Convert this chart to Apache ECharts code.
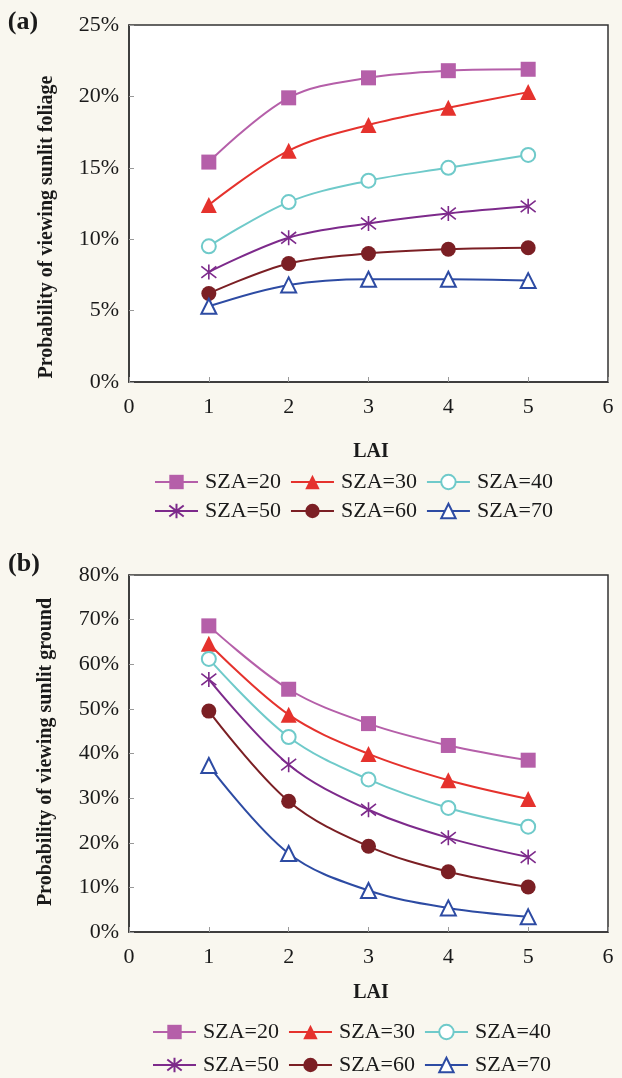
<!DOCTYPE html>
<html>
<head>
<meta charset="utf-8">
<script src="https://cdn.jsdelivr.net/npm/echarts@6/dist/echarts.min.js"></script>
<style>
  html, body { margin: 0; padding: 0; background: #f9f7ef; }
  #chart { width: 622px; height: 1078px; }
</style>
</head>
<body>
<div id="chart"></div>
<script>
// Leaf area index values on the x axis
const lai = [1, 2, 3, 4, 5];
const szaNames = ['SZA=20', 'SZA=30', 'SZA=40', 'SZA=50', 'SZA=60', 'SZA=70'];

// (a) probability of viewing sunlit foliage, in percent
const foliage20 = [15.4, 19.9, 21.3, 21.8, 21.9];
const foliage30 = [12.4, 16.2, 18.0, 19.2, 20.3];
const foliage40 = [9.5, 12.6, 14.1, 15.0, 15.9];
const foliage50 = [7.7, 10.1, 11.1, 11.8, 12.3];
const foliage60 = [6.2, 8.3, 9.0, 9.3, 9.4];
const foliage70 = [5.3, 6.8, 7.2, 7.2, 7.1];

// (b) probability of viewing sunlit ground, in percent
const ground20 = [68.6, 54.4, 46.7, 41.8, 38.5];
const ground30 = [64.6, 48.7, 39.9, 34.0, 29.8];
const ground40 = [61.2, 43.7, 34.2, 27.8, 23.6];
const ground50 = [56.6, 37.5, 27.4, 21.1, 16.8];
const ground60 = [49.5, 29.3, 19.2, 13.5, 10.1];
const ground70 = [37.3, 17.6, 9.3, 5.4, 3.4];

// Axis ranges and tick steps
const xTicks = { min: 0, max: 6, step: 1 };
const yTicksA = { min: 0, max: 25, step: 5 };
const yTicksB = { min: 0, max: 80, step: 10 };

const foliageSets = [foliage20, foliage30, foliage40, foliage50, foliage60, foliage70];
const groundSets = [ground20, ground30, ground40, ground50, ground60, ground70];

const FONT = '"Liberation Serif", "Times New Roman", serif';
const colors = ['#b55fa9', '#e5322d', '#6fcaca', '#7d2a8b', '#7b1f24', '#2d4ba3'];
const starPath = 'path://M0,0L10,10M10,0L0,10M5,-1.5L5,11.5';
const markers = [
  { symbol: 'rect', size: 15 },
  { symbol: 'triangle', size: 16 },
  { symbol: 'emptyCircle', size: 14 },
  { symbol: starPath, size: 15 },
  { symbol: 'circle', size: 15 },
  { symbol: 'emptyTriangle', size: 15 }
];

function makeSeries(sets, gridIdx) {
  return sets.map((vals, i) => {
    const m = markers[i];
    const s = {
      name: szaNames[i],
      type: 'line',
      xAxisIndex: gridIdx,
      yAxisIndex: gridIdx,
      data: lai.map((x, k) => [x, vals[k]]),
      smooth: 0.35,
      symbol: m.symbol,
      symbolSize: m.size,
      showAllSymbol: true,
      lineStyle: { color: colors[i], width: 2 },
      itemStyle: { color: colors[i], borderColor: colors[i], borderWidth: 0 },
      emphasis: { disabled: true },
      animation: false
    };
    if (m.symbol.indexOf('empty') === 0) {
      s.itemStyle.borderWidth = 1.5;
    }
    if (m.symbol === starPath) {
      s.itemStyle.borderWidth = 1.6;
    }
    return s;
  });
}

function xAxisFor(gridIdx) {
  return {
    gridIndex: gridIdx,
    type: 'value',
    min: xTicks.min, max: xTicks.max, interval: xTicks.step,
    axisLine: { show: true, onZero: false, lineStyle: { color: '#333', width: 1.5 } },
    axisTick: { show: true, inside: true, length: 5, lineStyle: { color: '#999', width: 1 } },
    axisLabel: { fontFamily: FONT, fontSize: 22, color: '#1a1a1a', margin: 14 },
    splitLine: { show: false }
  };
}

function yAxisFor(gridIdx, t) {
  return {
    gridIndex: gridIdx,
    type: 'value',
    min: t.min, max: t.max, interval: t.step,
    axisLine: { show: true, onZero: false, lineStyle: { color: '#333', width: 1.5 } },
    axisTick: { show: true, inside: true, length: 5, lineStyle: { color: '#999', width: 1 } },
    axisLabel: { fontFamily: FONT, fontSize: 22, color: '#1a1a1a', margin: 10, formatter: '{value}%' },
    splitLine: { show: false }
  };
}

function legendRow(names, left, centerY) {
  return {
    data: names,
    orient: 'horizontal',
    left: left,
    top: centerY - 11,
    padding: 0,
    itemWidth: 43,
    itemHeight: 18,
    itemGap: 9,
    selectedMode: false,
    textStyle: { fontFamily: FONT, fontSize: 22, color: '#1a1a1a', lineHeight: 22, padding: [0, 0, 0, 2] }
  };
}

function label(text, x, y, size, rotation) {
  return {
    type: 'text',
    x: x, y: y,
    rotation: rotation || 0,
    style: {
      text: text,
      fontFamily: FONT,
      fontWeight: 'bold',
      fontSize: size,
      fill: '#1a1a1a',
      textAlign: 'center',
      textVerticalAlign: 'middle'
    }
  };
}

const chart = echarts.init(document.getElementById('chart'), null, { renderer: 'canvas' });
chart.setOption({
  backgroundColor: '#f9f7ef',
  animation: false,
  grid: [
    { left: 129, top: 25, width: 479, height: 357, show: true, backgroundColor: '#ffffff', borderColor: '#333', borderWidth: 1.5 },
    { left: 129, top: 575, width: 479, height: 357, show: true, backgroundColor: '#ffffff', borderColor: '#333', borderWidth: 1.5 }
  ],
  xAxis: [xAxisFor(0), xAxisFor(1)],
  yAxis: [yAxisFor(0, yTicksA), yAxisFor(1, yTicksB)],
  legend: [
    legendRow(szaNames.slice(0, 3), 154, 482),
    legendRow(szaNames.slice(3, 6), 154, 511),
    legendRow(szaNames.slice(0, 3), 152, 1032),
    legendRow(szaNames.slice(3, 6), 152, 1065)
  ],
  graphic: [
    label('(a)', 23, 22, 26),
    label('(b)', 24, 564, 26),
    label('LAI', 371, 452, 20),
    label('LAI', 371, 993, 20),
    label('Probability of viewing sunlit foliage', 47, 227, 20, Math.PI / 2),
    label('Probability of viewing sunlit ground', 46, 752, 20, Math.PI / 2)
  ],
  series: makeSeries(foliageSets, 0).concat(makeSeries(groundSets, 1))
});
</script>
</body>
</html>
